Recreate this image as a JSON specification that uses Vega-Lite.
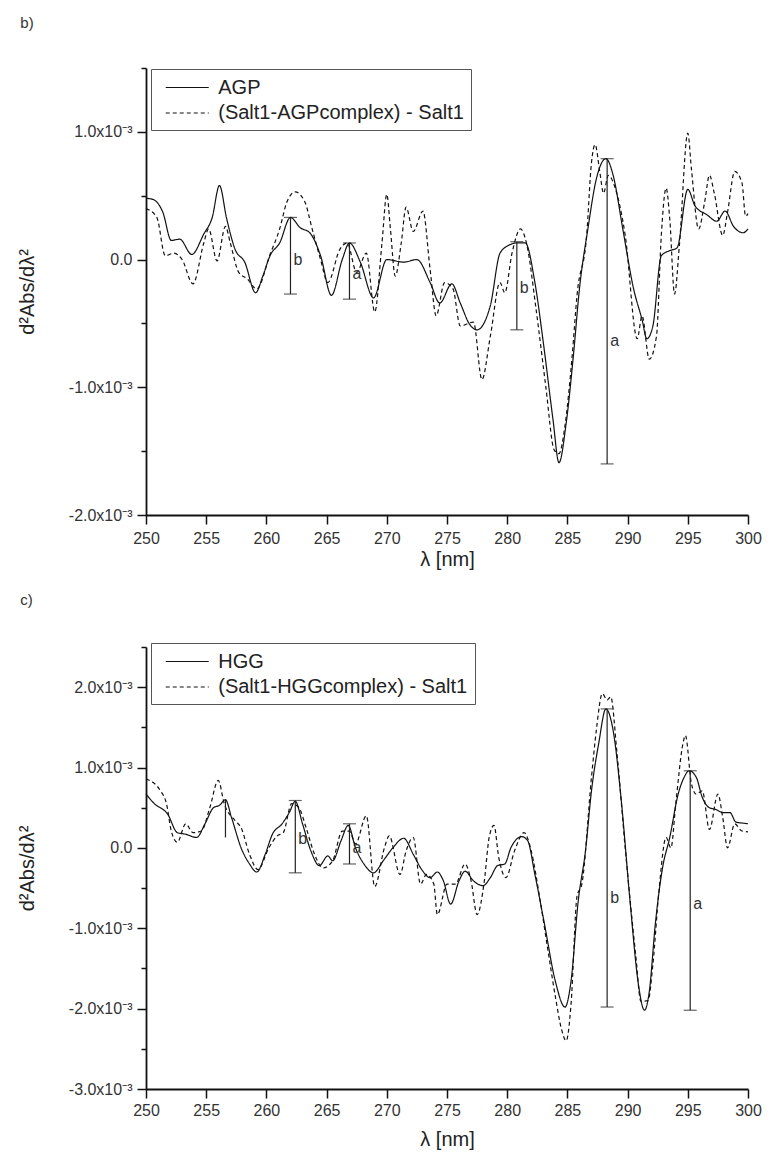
{
  "$schema": "https://vega.github.io/schema/vega-lite/v6.json",
  "background": "white",
  "padding": {"left": 17, "top": 16, "right": 8, "bottom": 4},
  "spacing": 24,
  "resolve": {"scale": {"strokeDash": "independent"}, "legend": {"strokeDash": "independent"}},
  "config": {
    "font": "Liberation Sans",
    "view": {"stroke": null},
    "axis": {
      "grid": false,
      "domainColor": "#111",
      "domainWidth": 1.8,
      "tickColor": "#111",
      "tickWidth": 1.5,
      "labelFont": "Liberation Sans",
      "labelFontSize": 16,
      "labelColor": "#333",
      "titleFont": "Liberation Sans",
      "titleFontSize": 20,
      "titleFontWeight": "normal",
      "titleColor": "#222",
      "labelOverlap": false,
      "labelFlush": false
    },
    "legend": {
      "title": null,
      "strokeColor": "#555",
      "fillColor": "white",
      "padding": 7,
      "labelFont": "Liberation Sans",
      "labelFontSize": 20,
      "labelColor": "#222",
      "labelLimit": 500,
      "symbolType": "M-2,0H2",
      "symbolSize": 462,
      "symbolStrokeWidth": 1.2,
      "symbolStrokeColor": "#111",
      "symbolOffset": 17.75,
      "labelOffset": 19.5,
      "rowPadding": 3.5
    },
    "title": {"fontSize": 15, "fontWeight": "normal", "anchor": "start", "frame": "bounds", "color": "#333", "font": "Liberation Sans", "dx": 3}
  },
  "datasets": {
    "agp": [
      {"lambda":250.0,"value":0.48e-3,"series":"AGP"},{"lambda":250.6,"value":0.47e-3,"series":"AGP"},{"lambda":251.4,"value":0.37e-3,"series":"AGP"},{"lambda":252.1,"value":0.15e-3,"series":"AGP"},{"lambda":252.8,"value":0.16e-3,"series":"AGP"},{"lambda":253.8,"value":0.04e-3,"series":"AGP"},{"lambda":254.8,"value":0.20e-3,"series":"AGP"},{"lambda":255.5,"value":0.33e-3,"series":"AGP"},{"lambda":256.1,"value":0.58e-3,"series":"AGP"},{"lambda":256.7,"value":0.32e-3,"series":"AGP"},{"lambda":257.4,"value":0.08e-3,"series":"AGP"},{"lambda":258.2,"value":-0.02e-3,"series":"AGP"},{"lambda":259.1,"value":-0.26e-3,"series":"AGP"},{"lambda":259.7,"value":-0.13e-3,"series":"AGP"},{"lambda":260.3,"value":0.03e-3,"series":"AGP"},{"lambda":261.1,"value":0.13e-3,"series":"AGP"},{"lambda":262.0,"value":0.33e-3,"series":"AGP"},{"lambda":262.8,"value":0.25e-3,"series":"AGP"},{"lambda":263.6,"value":0.21e-3,"series":"AGP"},{"lambda":264.5,"value":0.03e-3,"series":"AGP"},{"lambda":265.4,"value":-0.28e-3,"series":"AGP"},{"lambda":266.3,"value":0,"series":"AGP"},{"lambda":266.9,"value":0.13e-3,"series":"AGP"},{"lambda":267.8,"value":-0.02e-3,"series":"AGP"},{"lambda":268.9,"value":-0.30e-3,"series":"AGP"},{"lambda":270.0,"value":0,"series":"AGP"},{"lambda":271.4,"value":-0.02e-3,"series":"AGP"},{"lambda":272.5,"value":0,"series":"AGP"},{"lambda":273.6,"value":-0.18e-3,"series":"AGP"},{"lambda":274.4,"value":-0.34e-3,"series":"AGP"},{"lambda":275.4,"value":-0.19e-3,"series":"AGP"},{"lambda":276.1,"value":-0.34e-3,"series":"AGP"},{"lambda":276.9,"value":-0.51e-3,"series":"AGP"},{"lambda":277.5,"value":-0.55e-3,"series":"AGP"},{"lambda":278.6,"value":-0.36e-3,"series":"AGP"},{"lambda":279.4,"value":0.05e-3,"series":"AGP"},{"lambda":280.1,"value":0.11e-3,"series":"AGP"},{"lambda":280.8,"value":0.13e-3,"series":"AGP"},{"lambda":281.5,"value":0.13e-3,"series":"AGP"},{"lambda":282.3,"value":-0.18e-3,"series":"AGP"},{"lambda":283.0,"value":-0.65e-3,"series":"AGP"},{"lambda":283.8,"value":-1.25e-3,"series":"AGP"},{"lambda":284.3,"value":-1.59e-3,"series":"AGP"},{"lambda":284.9,"value":-1.28e-3,"series":"AGP"},{"lambda":285.5,"value":-0.75e-3,"series":"AGP"},{"lambda":286.0,"value":-0.23e-3,"series":"AGP"},{"lambda":286.7,"value":0.24e-3,"series":"AGP"},{"lambda":287.4,"value":0.63e-3,"series":"AGP"},{"lambda":288.2,"value":0.79e-3,"series":"AGP"},{"lambda":288.8,"value":0.66e-3,"series":"AGP"},{"lambda":289.6,"value":0.24e-3,"series":"AGP"},{"lambda":290.5,"value":-0.23e-3,"series":"AGP"},{"lambda":291.2,"value":-0.47e-3,"series":"AGP"},{"lambda":291.6,"value":-0.62e-3,"series":"AGP"},{"lambda":292.1,"value":-0.52e-3,"series":"AGP"},{"lambda":292.8,"value":0.03e-3,"series":"AGP"},{"lambda":293.5,"value":0.07e-3,"series":"AGP"},{"lambda":294.1,"value":0.09e-3,"series":"AGP"},{"lambda":295.0,"value":0.55e-3,"series":"AGP"},{"lambda":295.6,"value":0.42e-3,"series":"AGP"},{"lambda":296.6,"value":0.35e-3,"series":"AGP"},{"lambda":297.4,"value":0.30e-3,"series":"AGP"},{"lambda":298.1,"value":0.38e-3,"series":"AGP"},{"lambda":298.8,"value":0.26e-3,"series":"AGP"},{"lambda":299.6,"value":0.21e-3,"series":"AGP"},{"lambda":300.0,"value":0.24e-3,"series":"AGP"},
      {"lambda":250.0,"value":0.40e-3,"series":"(Salt1-AGPcomplex) - Salt1"},{"lambda":250.9,"value":0.33e-3,"series":"(Salt1-AGPcomplex) - Salt1"},{"lambda":251.6,"value":0.03e-3,"series":"(Salt1-AGPcomplex) - Salt1"},{"lambda":252.3,"value":0.05e-3,"series":"(Salt1-AGPcomplex) - Salt1"},{"lambda":253.0,"value":0,"series":"(Salt1-AGPcomplex) - Salt1"},{"lambda":253.9,"value":-0.19e-3,"series":"(Salt1-AGPcomplex) - Salt1"},{"lambda":254.8,"value":0.13e-3,"series":"(Salt1-AGPcomplex) - Salt1"},{"lambda":255.2,"value":0.24e-3,"series":"(Salt1-AGPcomplex) - Salt1"},{"lambda":255.9,"value":-0.01e-3,"series":"(Salt1-AGPcomplex) - Salt1"},{"lambda":256.6,"value":0.26e-3,"series":"(Salt1-AGPcomplex) - Salt1"},{"lambda":257.0,"value":0.13e-3,"series":"(Salt1-AGPcomplex) - Salt1"},{"lambda":257.7,"value":-0.10e-3,"series":"(Salt1-AGPcomplex) - Salt1"},{"lambda":258.4,"value":-0.15e-3,"series":"(Salt1-AGPcomplex) - Salt1"},{"lambda":259.2,"value":-0.23e-3,"series":"(Salt1-AGPcomplex) - Salt1"},{"lambda":260.3,"value":0.04e-3,"series":"(Salt1-AGPcomplex) - Salt1"},{"lambda":261.1,"value":0.24e-3,"series":"(Salt1-AGPcomplex) - Salt1"},{"lambda":261.7,"value":0.45e-3,"series":"(Salt1-AGPcomplex) - Salt1"},{"lambda":262.4,"value":0.53e-3,"series":"(Salt1-AGPcomplex) - Salt1"},{"lambda":263.2,"value":0.45e-3,"series":"(Salt1-AGPcomplex) - Salt1"},{"lambda":263.8,"value":0.24e-3,"series":"(Salt1-AGPcomplex) - Salt1"},{"lambda":264.5,"value":0,"series":"(Salt1-AGPcomplex) - Salt1"},{"lambda":265.1,"value":-0.18e-3,"series":"(Salt1-AGPcomplex) - Salt1"},{"lambda":266.1,"value":0.08e-3,"series":"(Salt1-AGPcomplex) - Salt1"},{"lambda":266.7,"value":0.13e-3,"series":"(Salt1-AGPcomplex) - Salt1"},{"lambda":267.5,"value":-0.10e-3,"series":"(Salt1-AGPcomplex) - Salt1"},{"lambda":268.3,"value":0.05e-3,"series":"(Salt1-AGPcomplex) - Salt1"},{"lambda":269.0,"value":-0.41e-3,"series":"(Salt1-AGPcomplex) - Salt1"},{"lambda":269.6,"value":0.13e-3,"series":"(Salt1-AGPcomplex) - Salt1"},{"lambda":270.0,"value":0.51e-3,"series":"(Salt1-AGPcomplex) - Salt1"},{"lambda":270.3,"value":0.24e-3,"series":"(Salt1-AGPcomplex) - Salt1"},{"lambda":270.7,"value":-0.13e-3,"series":"(Salt1-AGPcomplex) - Salt1"},{"lambda":271.2,"value":0.13e-3,"series":"(Salt1-AGPcomplex) - Salt1"},{"lambda":271.6,"value":0.41e-3,"series":"(Salt1-AGPcomplex) - Salt1"},{"lambda":272.2,"value":0.22e-3,"series":"(Salt1-AGPcomplex) - Salt1"},{"lambda":273.0,"value":0.38e-3,"series":"(Salt1-AGPcomplex) - Salt1"},{"lambda":273.6,"value":-0.08e-3,"series":"(Salt1-AGPcomplex) - Salt1"},{"lambda":274.1,"value":-0.44e-3,"series":"(Salt1-AGPcomplex) - Salt1"},{"lambda":274.8,"value":-0.18e-3,"series":"(Salt1-AGPcomplex) - Salt1"},{"lambda":275.5,"value":-0.23e-3,"series":"(Salt1-AGPcomplex) - Salt1"},{"lambda":276.1,"value":-0.52e-3,"series":"(Salt1-AGPcomplex) - Salt1"},{"lambda":277.2,"value":-0.49e-3,"series":"(Salt1-AGPcomplex) - Salt1"},{"lambda":277.9,"value":-0.94e-3,"series":"(Salt1-AGPcomplex) - Salt1"},{"lambda":278.6,"value":-0.60e-3,"series":"(Salt1-AGPcomplex) - Salt1"},{"lambda":279.4,"value":-0.18e-3,"series":"(Salt1-AGPcomplex) - Salt1"},{"lambda":279.8,"value":-0.26e-3,"series":"(Salt1-AGPcomplex) - Salt1"},{"lambda":280.4,"value":0.05e-3,"series":"(Salt1-AGPcomplex) - Salt1"},{"lambda":281.1,"value":0.24e-3,"series":"(Salt1-AGPcomplex) - Salt1"},{"lambda":281.6,"value":0.13e-3,"series":"(Salt1-AGPcomplex) - Salt1"},{"lambda":282.4,"value":-0.39e-3,"series":"(Salt1-AGPcomplex) - Salt1"},{"lambda":283.2,"value":-0.99e-3,"series":"(Salt1-AGPcomplex) - Salt1"},{"lambda":283.9,"value":-1.49e-3,"series":"(Salt1-AGPcomplex) - Salt1"},{"lambda":284.3,"value":-1.52e-3,"series":"(Salt1-AGPcomplex) - Salt1"},{"lambda":284.8,"value":-1.30e-3,"series":"(Salt1-AGPcomplex) - Salt1"},{"lambda":285.4,"value":-0.75e-3,"series":"(Salt1-AGPcomplex) - Salt1"},{"lambda":285.8,"value":-0.28e-3,"series":"(Salt1-AGPcomplex) - Salt1"},{"lambda":286.6,"value":0.19e-3,"series":"(Salt1-AGPcomplex) - Salt1"},{"lambda":287.0,"value":0.76e-3,"series":"(Salt1-AGPcomplex) - Salt1"},{"lambda":287.3,"value":0.90e-3,"series":"(Salt1-AGPcomplex) - Salt1"},{"lambda":287.7,"value":0.68e-3,"series":"(Salt1-AGPcomplex) - Salt1"},{"lambda":288.0,"value":0.52e-3,"series":"(Salt1-AGPcomplex) - Salt1"},{"lambda":288.4,"value":0.66e-3,"series":"(Salt1-AGPcomplex) - Salt1"},{"lambda":289.0,"value":0.55e-3,"series":"(Salt1-AGPcomplex) - Salt1"},{"lambda":289.8,"value":0.19e-3,"series":"(Salt1-AGPcomplex) - Salt1"},{"lambda":290.8,"value":-0.62e-3,"series":"(Salt1-AGPcomplex) - Salt1"},{"lambda":291.2,"value":-0.44e-3,"series":"(Salt1-AGPcomplex) - Salt1"},{"lambda":291.8,"value":-0.78e-3,"series":"(Salt1-AGPcomplex) - Salt1"},{"lambda":292.4,"value":-0.60e-3,"series":"(Salt1-AGPcomplex) - Salt1"},{"lambda":292.8,"value":0.19e-3,"series":"(Salt1-AGPcomplex) - Salt1"},{"lambda":293.2,"value":0.56e-3,"series":"(Salt1-AGPcomplex) - Salt1"},{"lambda":293.5,"value":0.32e-3,"series":"(Salt1-AGPcomplex) - Salt1"},{"lambda":293.9,"value":-0.27e-3,"series":"(Salt1-AGPcomplex) - Salt1"},{"lambda":294.3,"value":0.11e-3,"series":"(Salt1-AGPcomplex) - Salt1"},{"lambda":295.0,"value":0.99e-3,"series":"(Salt1-AGPcomplex) - Salt1"},{"lambda":295.3,"value":0.71e-3,"series":"(Salt1-AGPcomplex) - Salt1"},{"lambda":295.9,"value":0.24e-3,"series":"(Salt1-AGPcomplex) - Salt1"},{"lambda":296.4,"value":0.45e-3,"series":"(Salt1-AGPcomplex) - Salt1"},{"lambda":296.8,"value":0.66e-3,"series":"(Salt1-AGPcomplex) - Salt1"},{"lambda":297.2,"value":0.52e-3,"series":"(Salt1-AGPcomplex) - Salt1"},{"lambda":297.9,"value":0.19e-3,"series":"(Salt1-AGPcomplex) - Salt1"},{"lambda":298.3,"value":0.37e-3,"series":"(Salt1-AGPcomplex) - Salt1"},{"lambda":298.9,"value":0.69e-3,"series":"(Salt1-AGPcomplex) - Salt1"},{"lambda":299.5,"value":0.60e-3,"series":"(Salt1-AGPcomplex) - Salt1"},{"lambda":299.8,"value":0.34e-3,"series":"(Salt1-AGPcomplex) - Salt1"},{"lambda":300.0,"value":0.36e-3,"series":"(Salt1-AGPcomplex) - Salt1"}
    ],
    "agpBars": [
      {"lambda":262.0,"lo":-0.27e-3,"hi":0.33e-3,"label":"b","textAt":0},
      {"lambda":266.9,"lo":-0.31e-3,"hi":0.13e-3,"label":"a","textAt":-0.11e-3},
      {"lambda":280.8,"lo":-0.55e-3,"hi":0.14e-3,"label":"b","textAt":-0.22e-3},
      {"lambda":288.3,"lo":-1.60e-3,"hi":0.79e-3,"label":"a","textAt":-0.64e-3}
    ],
    "hgg": [
      {"lambda":250.0,"value":0.67e-3,"series":"HGG"},{"lambda":250.7,"value":0.55e-3,"series":"HGG"},{"lambda":251.8,"value":0.42e-3,"series":"HGG"},{"lambda":252.6,"value":0.19e-3,"series":"HGG"},{"lambda":253.3,"value":0.17e-3,"series":"HGG"},{"lambda":254.2,"value":0.13e-3,"series":"HGG"},{"lambda":254.9,"value":0.30e-3,"series":"HGG"},{"lambda":255.6,"value":0.50e-3,"series":"HGG"},{"lambda":256.1,"value":0.53e-3,"series":"HGG"},{"lambda":256.6,"value":0.60e-3,"series":"HGG"},{"lambda":257.1,"value":0.38e-3,"series":"HGG"},{"lambda":257.9,"value":0,"series":"HGG"},{"lambda":258.6,"value":-0.20e-3,"series":"HGG"},{"lambda":259.2,"value":-0.30e-3,"series":"HGG"},{"lambda":259.9,"value":-0.08e-3,"series":"HGG"},{"lambda":260.5,"value":0.17e-3,"series":"HGG"},{"lambda":261.3,"value":0.30e-3,"series":"HGG"},{"lambda":261.9,"value":0.44e-3,"series":"HGG"},{"lambda":262.4,"value":0.58e-3,"series":"HGG"},{"lambda":263.0,"value":0.30e-3,"series":"HGG"},{"lambda":263.7,"value":-0.04e-3,"series":"HGG"},{"lambda":264.4,"value":-0.22e-3,"series":"HGG"},{"lambda":265.1,"value":-0.10e-3,"series":"HGG"},{"lambda":265.5,"value":-0.16e-3,"series":"HGG"},{"lambda":266.2,"value":0.09e-3,"series":"HGG"},{"lambda":266.8,"value":0.28e-3,"series":"HGG"},{"lambda":267.4,"value":0,"series":"HGG"},{"lambda":268.1,"value":-0.20e-3,"series":"HGG"},{"lambda":268.9,"value":-0.31e-3,"series":"HGG"},{"lambda":269.7,"value":-0.16e-3,"series":"HGG"},{"lambda":270.5,"value":0,"series":"HGG"},{"lambda":271.4,"value":0.12e-3,"series":"HGG"},{"lambda":272.2,"value":-0.08e-3,"series":"HGG"},{"lambda":272.9,"value":-0.27e-3,"series":"HGG"},{"lambda":273.6,"value":-0.37e-3,"series":"HGG"},{"lambda":274.2,"value":-0.30e-3,"series":"HGG"},{"lambda":274.7,"value":-0.41e-3,"series":"HGG"},{"lambda":275.3,"value":-0.70e-3,"series":"HGG"},{"lambda":276.0,"value":-0.41e-3,"series":"HGG"},{"lambda":276.5,"value":-0.29e-3,"series":"HGG"},{"lambda":277.2,"value":-0.41e-3,"series":"HGG"},{"lambda":278.0,"value":-0.47e-3,"series":"HGG"},{"lambda":278.6,"value":-0.37e-3,"series":"HGG"},{"lambda":279.2,"value":-0.22e-3,"series":"HGG"},{"lambda":279.8,"value":-0.20e-3,"series":"HGG"},{"lambda":280.3,"value":0,"series":"HGG"},{"lambda":281.2,"value":0.14e-3,"series":"HGG"},{"lambda":281.7,"value":0.09e-3,"series":"HGG"},{"lambda":282.3,"value":-0.33e-3,"series":"HGG"},{"lambda":283.1,"value":-0.95e-3,"series":"HGG"},{"lambda":284.0,"value":-1.66e-3,"series":"HGG"},{"lambda":284.8,"value":-1.98e-3,"series":"HGG"},{"lambda":285.3,"value":-1.66e-3,"series":"HGG"},{"lambda":285.9,"value":-0.66e-3,"series":"HGG"},{"lambda":286.5,"value":-0.04e-3,"series":"HGG"},{"lambda":287.0,"value":0.71e-3,"series":"HGG"},{"lambda":287.6,"value":1.30e-3,"series":"HGG"},{"lambda":288.2,"value":1.73e-3,"series":"HGG"},{"lambda":288.8,"value":1.46e-3,"series":"HGG"},{"lambda":289.5,"value":0.55e-3,"series":"HGG"},{"lambda":290.2,"value":-0.66e-3,"series":"HGG"},{"lambda":290.9,"value":-1.70e-3,"series":"HGG"},{"lambda":291.4,"value":-2.02e-3,"series":"HGG"},{"lambda":291.8,"value":-1.79e-3,"series":"HGG"},{"lambda":292.3,"value":-0.95e-3,"series":"HGG"},{"lambda":292.9,"value":-0.25e-3,"series":"HGG"},{"lambda":293.5,"value":0.13e-3,"series":"HGG"},{"lambda":294.2,"value":0.67e-3,"series":"HGG"},{"lambda":294.7,"value":0.88e-3,"series":"HGG"},{"lambda":295.1,"value":0.96e-3,"series":"HGG"},{"lambda":295.7,"value":0.88e-3,"series":"HGG"},{"lambda":296.2,"value":0.63e-3,"series":"HGG"},{"lambda":296.8,"value":0.50e-3,"series":"HGG"},{"lambda":297.3,"value":0.48e-3,"series":"HGG"},{"lambda":297.9,"value":0.44e-3,"series":"HGG"},{"lambda":298.5,"value":0.44e-3,"series":"HGG"},{"lambda":299.0,"value":0.32e-3,"series":"HGG"},{"lambda":299.5,"value":0.31e-3,"series":"HGG"},{"lambda":300.0,"value":0.30e-3,"series":"HGG"},
      {"lambda":250.0,"value":0.86e-3,"series":"(Salt1-HGGcomplex) - Salt1"},{"lambda":251.2,"value":0.71e-3,"series":"(Salt1-HGGcomplex) - Salt1"},{"lambda":251.7,"value":0.55e-3,"series":"(Salt1-HGGcomplex) - Salt1"},{"lambda":252.1,"value":0.21e-3,"series":"(Salt1-HGGcomplex) - Salt1"},{"lambda":252.6,"value":0.07e-3,"series":"(Salt1-HGGcomplex) - Salt1"},{"lambda":253.3,"value":0.30e-3,"series":"(Salt1-HGGcomplex) - Salt1"},{"lambda":253.9,"value":0.19e-3,"series":"(Salt1-HGGcomplex) - Salt1"},{"lambda":254.6,"value":0.21e-3,"series":"(Salt1-HGGcomplex) - Salt1"},{"lambda":255.3,"value":0.50e-3,"series":"(Salt1-HGGcomplex) - Salt1"},{"lambda":256.0,"value":0.84e-3,"series":"(Salt1-HGGcomplex) - Salt1"},{"lambda":256.5,"value":0.55e-3,"series":"(Salt1-HGGcomplex) - Salt1"},{"lambda":257.4,"value":0.34e-3,"series":"(Salt1-HGGcomplex) - Salt1"},{"lambda":257.9,"value":0.25e-3,"series":"(Salt1-HGGcomplex) - Salt1"},{"lambda":258.6,"value":-0.08e-3,"series":"(Salt1-HGGcomplex) - Salt1"},{"lambda":259.3,"value":-0.27e-3,"series":"(Salt1-HGGcomplex) - Salt1"},{"lambda":260.2,"value":0,"series":"(Salt1-HGGcomplex) - Salt1"},{"lambda":260.9,"value":0.15e-3,"series":"(Salt1-HGGcomplex) - Salt1"},{"lambda":261.4,"value":0.19e-3,"series":"(Salt1-HGGcomplex) - Salt1"},{"lambda":262.1,"value":0.55e-3,"series":"(Salt1-HGGcomplex) - Salt1"},{"lambda":262.7,"value":0.50e-3,"series":"(Salt1-HGGcomplex) - Salt1"},{"lambda":263.3,"value":0.25e-3,"series":"(Salt1-HGGcomplex) - Salt1"},{"lambda":264.0,"value":-0.08e-3,"series":"(Salt1-HGGcomplex) - Salt1"},{"lambda":264.7,"value":-0.25e-3,"series":"(Salt1-HGGcomplex) - Salt1"},{"lambda":265.5,"value":-0.16e-3,"series":"(Salt1-HGGcomplex) - Salt1"},{"lambda":266.3,"value":0.21e-3,"series":"(Salt1-HGGcomplex) - Salt1"},{"lambda":266.9,"value":0.21e-3,"series":"(Salt1-HGGcomplex) - Salt1"},{"lambda":267.4,"value":0.05e-3,"series":"(Salt1-HGGcomplex) - Salt1"},{"lambda":268.3,"value":0.40e-3,"series":"(Salt1-HGGcomplex) - Salt1"},{"lambda":269.0,"value":-0.48e-3,"series":"(Salt1-HGGcomplex) - Salt1"},{"lambda":269.8,"value":0,"series":"(Salt1-HGGcomplex) - Salt1"},{"lambda":270.2,"value":0.15e-3,"series":"(Salt1-HGGcomplex) - Salt1"},{"lambda":271.1,"value":-0.33e-3,"series":"(Salt1-HGGcomplex) - Salt1"},{"lambda":271.6,"value":-0.04e-3,"series":"(Salt1-HGGcomplex) - Salt1"},{"lambda":272.2,"value":0.13e-3,"series":"(Salt1-HGGcomplex) - Salt1"},{"lambda":272.8,"value":-0.45e-3,"series":"(Salt1-HGGcomplex) - Salt1"},{"lambda":273.3,"value":-0.33e-3,"series":"(Salt1-HGGcomplex) - Salt1"},{"lambda":273.9,"value":-0.45e-3,"series":"(Salt1-HGGcomplex) - Salt1"},{"lambda":274.2,"value":-0.83e-3,"series":"(Salt1-HGGcomplex) - Salt1"},{"lambda":275.0,"value":-0.45e-3,"series":"(Salt1-HGGcomplex) - Salt1"},{"lambda":275.7,"value":-0.45e-3,"series":"(Salt1-HGGcomplex) - Salt1"},{"lambda":276.5,"value":-0.20e-3,"series":"(Salt1-HGGcomplex) - Salt1"},{"lambda":277.0,"value":-0.41e-3,"series":"(Salt1-HGGcomplex) - Salt1"},{"lambda":277.5,"value":-0.83e-3,"series":"(Salt1-HGGcomplex) - Salt1"},{"lambda":278.1,"value":-0.41e-3,"series":"(Salt1-HGGcomplex) - Salt1"},{"lambda":278.5,"value":0.13e-3,"series":"(Salt1-HGGcomplex) - Salt1"},{"lambda":278.9,"value":0.28e-3,"series":"(Salt1-HGGcomplex) - Salt1"},{"lambda":279.3,"value":-0.12e-3,"series":"(Salt1-HGGcomplex) - Salt1"},{"lambda":279.9,"value":-0.37e-3,"series":"(Salt1-HGGcomplex) - Salt1"},{"lambda":280.6,"value":-0.04e-3,"series":"(Salt1-HGGcomplex) - Salt1"},{"lambda":281.4,"value":0.19e-3,"series":"(Salt1-HGGcomplex) - Salt1"},{"lambda":282.0,"value":-0.04e-3,"series":"(Salt1-HGGcomplex) - Salt1"},{"lambda":282.7,"value":-0.62e-3,"series":"(Salt1-HGGcomplex) - Salt1"},{"lambda":283.4,"value":-1.29e-3,"series":"(Salt1-HGGcomplex) - Salt1"},{"lambda":284.0,"value":-1.85e-3,"series":"(Salt1-HGGcomplex) - Salt1"},{"lambda":284.5,"value":-2.25e-3,"series":"(Salt1-HGGcomplex) - Salt1"},{"lambda":284.9,"value":-2.40e-3,"series":"(Salt1-HGGcomplex) - Salt1"},{"lambda":285.3,"value":-1.95e-3,"series":"(Salt1-HGGcomplex) - Salt1"},{"lambda":285.8,"value":-0.60e-3,"series":"(Salt1-HGGcomplex) - Salt1"},{"lambda":286.2,"value":-0.45e-3,"series":"(Salt1-HGGcomplex) - Salt1"},{"lambda":287.0,"value":0.88e-3,"series":"(Salt1-HGGcomplex) - Salt1"},{"lambda":287.4,"value":1.46e-3,"series":"(Salt1-HGGcomplex) - Salt1"},{"lambda":287.9,"value":1.92e-3,"series":"(Salt1-HGGcomplex) - Salt1"},{"lambda":288.3,"value":1.84e-3,"series":"(Salt1-HGGcomplex) - Salt1"},{"lambda":288.6,"value":1.88e-3,"series":"(Salt1-HGGcomplex) - Salt1"},{"lambda":289.1,"value":1.21e-3,"series":"(Salt1-HGGcomplex) - Salt1"},{"lambda":289.8,"value":0,"series":"(Salt1-HGGcomplex) - Salt1"},{"lambda":290.7,"value":-1.37e-3,"series":"(Salt1-HGGcomplex) - Salt1"},{"lambda":291.1,"value":-1.91e-3,"series":"(Salt1-HGGcomplex) - Salt1"},{"lambda":291.7,"value":-1.90e-3,"series":"(Salt1-HGGcomplex) - Salt1"},{"lambda":292.1,"value":-1.45e-3,"series":"(Salt1-HGGcomplex) - Salt1"},{"lambda":292.6,"value":-0.54e-3,"series":"(Salt1-HGGcomplex) - Salt1"},{"lambda":293.2,"value":0.13e-3,"series":"(Salt1-HGGcomplex) - Salt1"},{"lambda":293.6,"value":0,"series":"(Salt1-HGGcomplex) - Salt1"},{"lambda":294.0,"value":0.55e-3,"series":"(Salt1-HGGcomplex) - Salt1"},{"lambda":294.6,"value":1.30e-3,"series":"(Salt1-HGGcomplex) - Salt1"},{"lambda":294.8,"value":1.40e-3,"series":"(Salt1-HGGcomplex) - Salt1"},{"lambda":295.3,"value":0.80e-3,"series":"(Salt1-HGGcomplex) - Salt1"},{"lambda":295.7,"value":0.67e-3,"series":"(Salt1-HGGcomplex) - Salt1"},{"lambda":296.2,"value":0.71e-3,"series":"(Salt1-HGGcomplex) - Salt1"},{"lambda":296.8,"value":0.23e-3,"series":"(Salt1-HGGcomplex) - Salt1"},{"lambda":297.5,"value":0.67e-3,"series":"(Salt1-HGGcomplex) - Salt1"},{"lambda":297.9,"value":0.38e-3,"series":"(Salt1-HGGcomplex) - Salt1"},{"lambda":298.3,"value":0,"series":"(Salt1-HGGcomplex) - Salt1"},{"lambda":298.9,"value":0.30e-3,"series":"(Salt1-HGGcomplex) - Salt1"},{"lambda":299.5,"value":0.21e-3,"series":"(Salt1-HGGcomplex) - Salt1"},{"lambda":300.0,"value":0.20e-3,"series":"(Salt1-HGGcomplex) - Salt1"}
    ],
    "hggBars": [
      {"lambda":256.6,"lo":0.13e-3,"hi":0.60e-3,"label":"","textAt":0},
      {"lambda":262.4,"lo":-0.31e-3,"hi":0.59e-3,"label":"b","textAt":0.11e-3},
      {"lambda":266.9,"lo":-0.20e-3,"hi":0.30e-3,"label":"a","textAt":0},
      {"lambda":288.3,"lo":-1.98e-3,"hi":1.73e-3,"label":"b","textAt":-0.62e-3},
      {"lambda":295.2,"lo":-2.02e-3,"hi":0.96e-3,"label":"a","textAt":-0.70e-3}
    ]
  },
  "vconcat": [
    {
      "title": {"text": "b)", "offset": 29},
      "width": 602,
      "height": 447,
      "layer": [
        {
          "data": {"name": "agp"},
          "mark": {"type": "line", "color": "#111", "strokeWidth": 1.2, "interpolate": "monotone"},
          "encoding": {
            "x": {"field": "lambda", "type": "quantitative", "title": "λ [nm]",
              "scale": {"domain": [250, 300], "nice": false, "zero": false},
              "axis": {"values": [250,252.5,255,257.5,260,262.5,265,267.5,270,272.5,275,277.5,280,282.5,285,287.5,290,292.5,295,297.5,300],
                "labelExpr": "datum.value % 5 === 0 ? datum.label : ''",
                "tickSize": {"condition": {"test": "datum.value % 5 === 0", "value": 9}, "value": 5},
                "labelPadding": 6, "titlePadding": 3}},
            "y": {"field": "value", "type": "quantitative", "title": "d²Abs/dλ²",
              "scale": {"domain": [-0.002, 0.0015], "nice": false, "zero": false},
              "axis": {"values": [-0.002,-0.0015,-0.001,-0.0005,0,0.0005,0.001,0.0015],
                "labelExpr": "round(datum.value*2000) % 2 === 0 ? (round(datum.value*1000) === 0 ? '0.0' : round(datum.value*1000) + '.0x10⁻³') : ''",
                "tickSize": {"condition": {"test": "round(datum.value*2000) % 2 === 0", "value": 9}, "value": 5},
                "labelPadding": 5, "titlePadding": 31}},
            "strokeDash": {"field": "series", "type": "nominal",
              "scale": {"domain": ["AGP", "(Salt1-AGPcomplex) - Salt1"], "range": [[1, 0], [4, 3]]},
              "legend": {"orient": "none", "legendX": 5, "legendY": 1}}
          }
        },
        {
          "data": {"name": "agpBars"},
          "mark": {"type": "rule", "color": "#222", "strokeWidth": 1.2},
          "encoding": {
            "x": {"field": "lambda", "type": "quantitative", "title": "λ [nm]"},
            "y": {"field": "lo", "type": "quantitative", "title": "d²Abs/dλ²"},
            "y2": {"field": "hi"}
          }
        },
        {
          "data": {"name": "agpBars"},
          "mark": {"type": "tick", "orient": "horizontal", "color": "#222", "size": 13, "thickness": 1.2},
          "encoding": {
            "x": {"field": "lambda", "type": "quantitative", "title": "λ [nm]"},
            "y": {"field": "hi", "type": "quantitative", "title": "d²Abs/dλ²"}
          }
        },
        {
          "data": {"name": "agpBars"},
          "mark": {"type": "tick", "orient": "horizontal", "color": "#222", "size": 13, "thickness": 1.2},
          "encoding": {
            "x": {"field": "lambda", "type": "quantitative", "title": "λ [nm]"},
            "y": {"field": "lo", "type": "quantitative", "title": "d²Abs/dλ²"}
          }
        },
        {
          "data": {"name": "agpBars"},
          "mark": {"type": "text", "align": "left", "baseline": "middle", "dx": 3, "fontSize": 16, "color": "#333", "font": "Liberation Sans"},
          "encoding": {
            "x": {"field": "lambda", "type": "quantitative", "title": "λ [nm]"},
            "y": {"field": "textAt", "type": "quantitative", "title": "d²Abs/dλ²"},
            "text": {"field": "label"}
          }
        }
      ]
    },
    {
      "title": {"text": "c)", "offset": 31},
      "width": 602,
      "height": 442,
      "layer": [
        {
          "data": {"name": "hgg"},
          "mark": {"type": "line", "color": "#111", "strokeWidth": 1.2, "interpolate": "monotone"},
          "encoding": {
            "x": {"field": "lambda", "type": "quantitative", "title": "λ [nm]",
              "scale": {"domain": [250, 300], "nice": false, "zero": false},
              "axis": {"values": [250,252.5,255,257.5,260,262.5,265,267.5,270,272.5,275,277.5,280,282.5,285,287.5,290,292.5,295,297.5,300],
                "labelExpr": "datum.value % 5 === 0 ? datum.label : ''",
                "tickSize": {"condition": {"test": "datum.value % 5 === 0", "value": 9}, "value": 5},
                "labelPadding": 4, "titlePadding": 11}},
            "y": {"field": "value", "type": "quantitative", "title": "d²Abs/dλ²",
              "scale": {"domain": [-0.003, 0.0025], "nice": false, "zero": false},
              "axis": {"values": [-0.003,-0.0025,-0.002,-0.0015,-0.001,-0.0005,0,0.0005,0.001,0.0015,0.002,0.0025],
                "labelExpr": "round(datum.value*2000) % 2 === 0 ? (round(datum.value*1000) === 0 ? '0.0' : round(datum.value*1000) + '.0x10⁻³') : ''",
                "tickSize": {"condition": {"test": "round(datum.value*2000) % 2 === 0", "value": 9}, "value": 5},
                "labelPadding": 5, "titlePadding": 31}},
            "strokeDash": {"field": "series", "type": "nominal",
              "scale": {"domain": ["HGG", "(Salt1-HGGcomplex) - Salt1"], "range": [[1, 0], [4, 3]]},
              "legend": {"orient": "none", "legendX": 5, "legendY": -4}}
          }
        },
        {
          "data": {"name": "hggBars"},
          "mark": {"type": "rule", "color": "#222", "strokeWidth": 1.2},
          "encoding": {
            "x": {"field": "lambda", "type": "quantitative", "title": "λ [nm]"},
            "y": {"field": "lo", "type": "quantitative", "title": "d²Abs/dλ²"},
            "y2": {"field": "hi"}
          }
        },
        {
          "data": {"name": "hggBars"},
          "transform": [{"filter": "datum.label !== ''"}],
          "mark": {"type": "tick", "orient": "horizontal", "color": "#222", "size": 13, "thickness": 1.2},
          "encoding": {
            "x": {"field": "lambda", "type": "quantitative", "title": "λ [nm]"},
            "y": {"field": "hi", "type": "quantitative", "title": "d²Abs/dλ²"}
          }
        },
        {
          "data": {"name": "hggBars"},
          "transform": [{"filter": "datum.label !== ''"}],
          "mark": {"type": "tick", "orient": "horizontal", "color": "#222", "size": 13, "thickness": 1.2},
          "encoding": {
            "x": {"field": "lambda", "type": "quantitative", "title": "λ [nm]"},
            "y": {"field": "lo", "type": "quantitative", "title": "d²Abs/dλ²"}
          }
        },
        {
          "data": {"name": "hggBars"},
          "transform": [{"filter": "datum.label !== ''"}],
          "mark": {"type": "text", "align": "left", "baseline": "middle", "dx": 3, "fontSize": 16, "color": "#333", "font": "Liberation Sans"},
          "encoding": {
            "x": {"field": "lambda", "type": "quantitative", "title": "λ [nm]"},
            "y": {"field": "textAt", "type": "quantitative", "title": "d²Abs/dλ²"},
            "text": {"field": "label"}
          }
        }
      ]
    }
  ]
}
